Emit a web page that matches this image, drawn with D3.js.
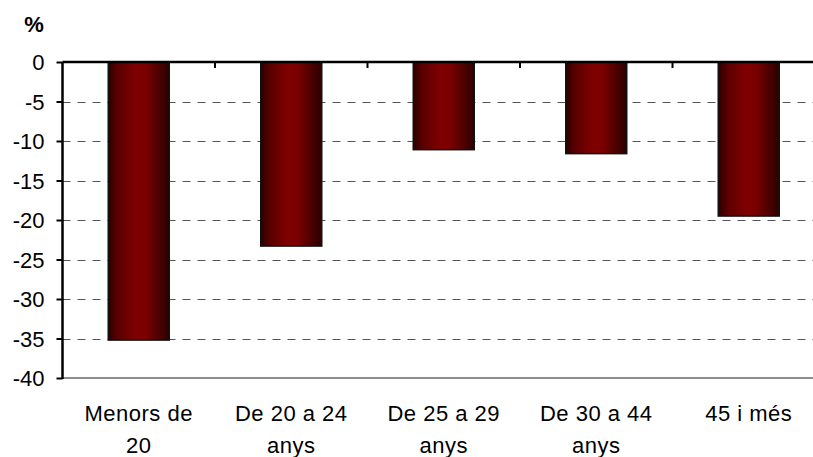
<!DOCTYPE html>
<html>
<head>
<meta charset="utf-8">
<script src="https://cdn.jsdelivr.net/npm/d3@7"></script>
<style>
  html, body { margin: 0; padding: 0; background: #fff; }
  svg { display: block; }
  text { font-family: "Liberation Sans", Arial, sans-serif; fill: #000; }
</style>
</head>
<body>
<svg id="chart" width="813" height="457"></svg>
<script>
const categories = [["Menors de", "20"], ["De 20 a 24", "anys"], ["De 25 a 29", "anys"], ["De 30 a 44", "anys"], ["45 i més"]];
const values = [-35.2, -23.3, -11.1, -11.6, -19.5];
const yTicks = [0, -5, -10, -15, -20, -25, -30, -35, -40];
const unitLabel = "%";

(function () {
const svg = d3.select("#chart");
const W = 813, H = 457;
const pLeft = 62.5, pRight = 825, pTop = 62, pBottom = 378;

const x = d3.scaleBand().domain(d3.range(categories.length)).range([pLeft, pRight]).paddingInner(0).paddingOuter(0);
const y = d3.scaleLinear().domain([0, -40]).range([pTop, pBottom]);

const defs = svg.append("defs");
const grad = defs.append("linearGradient").attr("id", "barGrad").attr("x1", "0%").attr("x2", "100%").attr("y1", "0%").attr("y2", "0%");
grad.append("stop").attr("offset", "0%").attr("stop-color", "#2a0000");
grad.append("stop").attr("offset", "15%").attr("stop-color", "#5a0000");
grad.append("stop").attr("offset", "45%").attr("stop-color", "#800000");
grad.append("stop").attr("offset", "60%").attr("stop-color", "#7c0000");
grad.append("stop").attr("offset", "85%").attr("stop-color", "#4a0000");
grad.append("stop").attr("offset", "100%").attr("stop-color", "#2a0000");

// gridlines
svg.append("g").selectAll("line").data(yTicks.filter(d => d !== 0 && d !== -40)).join("line")
  .attr("x1", pLeft).attr("x2", W)
  .attr("y1", d => Math.round(y(d)) + 0.5).attr("y2", d => Math.round(y(d)) + 0.5)
  .attr("stroke", "#555").attr("stroke-width", 1).attr("stroke-dasharray", "8,7");

// bottom border line
svg.append("line").attr("x1", pLeft).attr("x2", W).attr("y1", y(-40)).attr("y2", y(-40))
  .attr("stroke", "#8c8c8c").attr("stroke-width", 2);

// bars
const bw = x.bandwidth() * 0.4;
svg.append("g").selectAll("rect").data(values).join("rect")
  .attr("x", (d, i) => x(i) + (x.bandwidth() - bw) / 2)
  .attr("y", d => y(0))
  .attr("width", bw)
  .attr("height", d => y(d) - y(0))
  .attr("fill", "url(#barGrad)")
  .attr("stroke", "#111").attr("stroke-width", 1.5);

// x axis line at zero with ticks
svg.append("line").attr("x1", pLeft).attr("x2", W).attr("y1", y(0)).attr("y2", y(0))
  .attr("stroke", "#000").attr("stroke-width", 2.5);
svg.append("g").selectAll("line").data(d3.range(1, categories.length)).join("line")
  .attr("x1", i => x(i)).attr("x2", i => x(i))
  .attr("y1", y(0)).attr("y2", y(0) + 6)
  .attr("stroke", "#000").attr("stroke-width", 2);

// y axis
const yAxis = d3.axisLeft(y).tickValues(yTicks).tickSize(6).tickPadding(12).tickFormat(d => String(d));
const gy = svg.append("g").attr("transform", `translate(${pLeft},0)`).call(yAxis);
gy.select(".domain").attr("stroke", "#000").attr("stroke-width", 2.5).attr("d", `M0,${pTop}V${pBottom + 1}`);
gy.selectAll(".tick line").attr("stroke", "#000").attr("stroke-width", 2);
gy.selectAll(".tick text").attr("font-size", 22).attr("font-family", "Liberation Sans, Arial, sans-serif").attr("fill", "#000").attr("dy", "0.36em");

// category labels
const lab = svg.append("g").selectAll("text").data(categories).join("text")
  .attr("text-anchor", "middle").attr("font-size", 22).attr("letter-spacing", 0.5)
  .attr("x", (d, i) => x(i) + x.bandwidth() / 2);
lab.each(function(d, i) {
  const t = d3.select(this);
  d.forEach((line, j) => {
    t.append("tspan").attr("x", x(i) + x.bandwidth() / 2).attr("y", 421 + j * 32).text(line);
  });
});

// unit label
svg.append("text").attr("x", 34).attr("y", 32).attr("text-anchor", "middle")
  .attr("font-size", 22).attr("font-weight", "bold").text(unitLabel);
})();
</script>
</body>
</html>
